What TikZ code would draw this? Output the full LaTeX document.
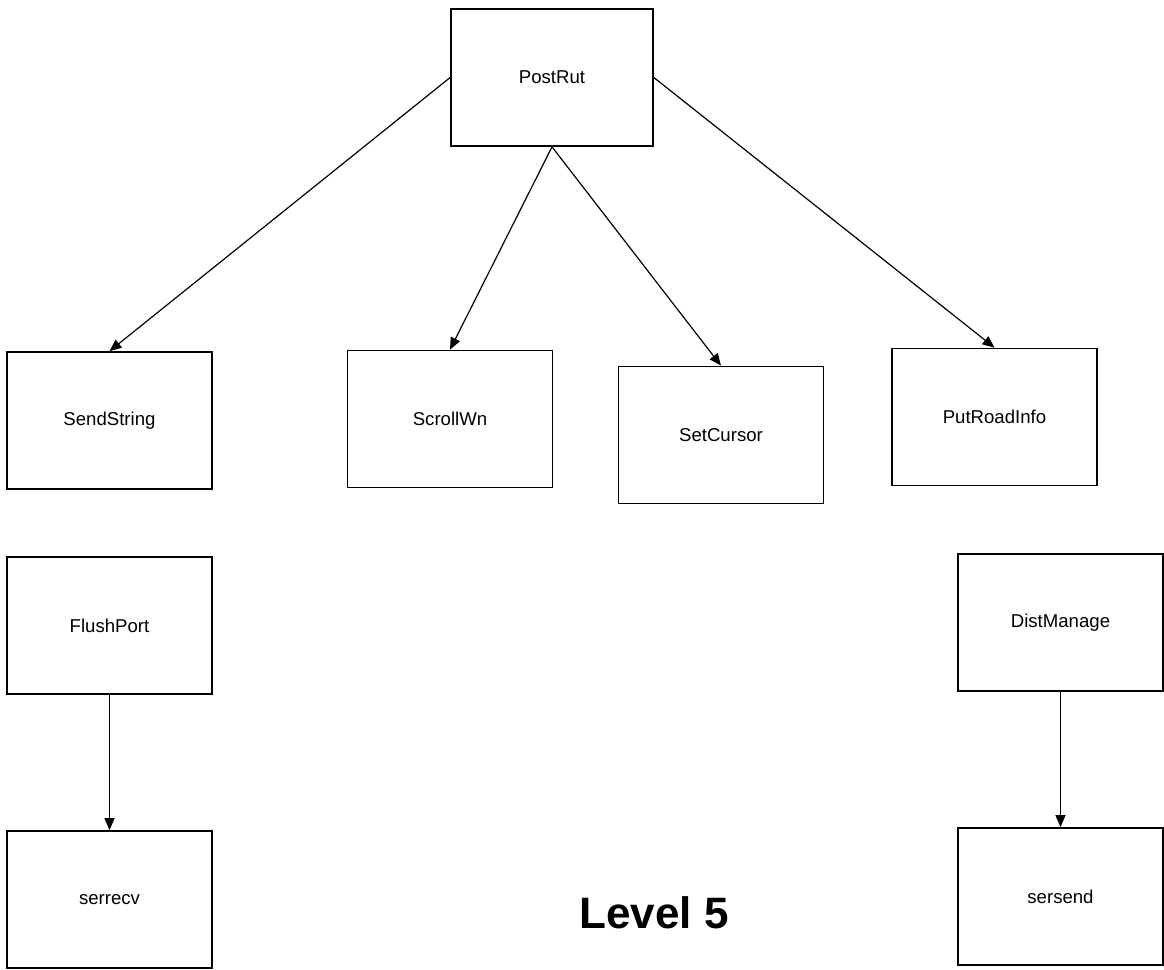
\documentclass[tikz,border=0pt]{standalone}
\usepackage{fontspec}
\setmainfont{Liberation Sans}
\usetikzlibrary{arrows.meta}
\begin{document}
\begin{tikzpicture}[x=0.5pt,y=-0.5pt,line width=0.85pt,
  every node/.style={font=\fontsize{9.3}{11}\selectfont},
  fbox/.style={draw,minimum width=102.5pt,minimum height=68.5pt,inner sep=0pt},
  call/.style={line width=0.6pt,-{Triangle[length=6pt,width=5pt]}}]
\useasboundingbox (0,0) rectangle (1164,970);
\node[fbox,minimum width=101pt] (postrut) at (552,77.5) {PostRut};
% second row
\node[fbox] (sendstr) at (109.5,420.5) {SendString};
\node[fbox] (scroll) at (450,419) {ScrollWn};
\node[fbox] (setcur) at (721,435) {SetCursor};
\node[fbox] (putroad) at (994.5,417) {PutRoadInfo};
% lower rows
\node[fbox] (flush) at (109.5,625.5) {FlushPort};
\node[fbox] (dist) at (1060.5,622.5) {DistManage};
\node[fbox] (serrecv) at (109.5,899.5) {serrecv};
\node[fbox] (sersend) at (1060.5,896.5) {sersend};
\node[font=\fontsize{22}{26}\selectfont\bfseries] (level) at (654,913) {Level 5};
\draw[call] (postrut.west) -- (sendstr.north);
\draw[call] (postrut.south) -- (scroll.north);
\draw[call] (postrut.south) -- (setcur.north);
\draw[call] (postrut.east) -- (putroad.north);
\draw[call] (flush) -- (serrecv);
\draw[call] (dist) -- (sersend);
\end{tikzpicture}
\end{document}
